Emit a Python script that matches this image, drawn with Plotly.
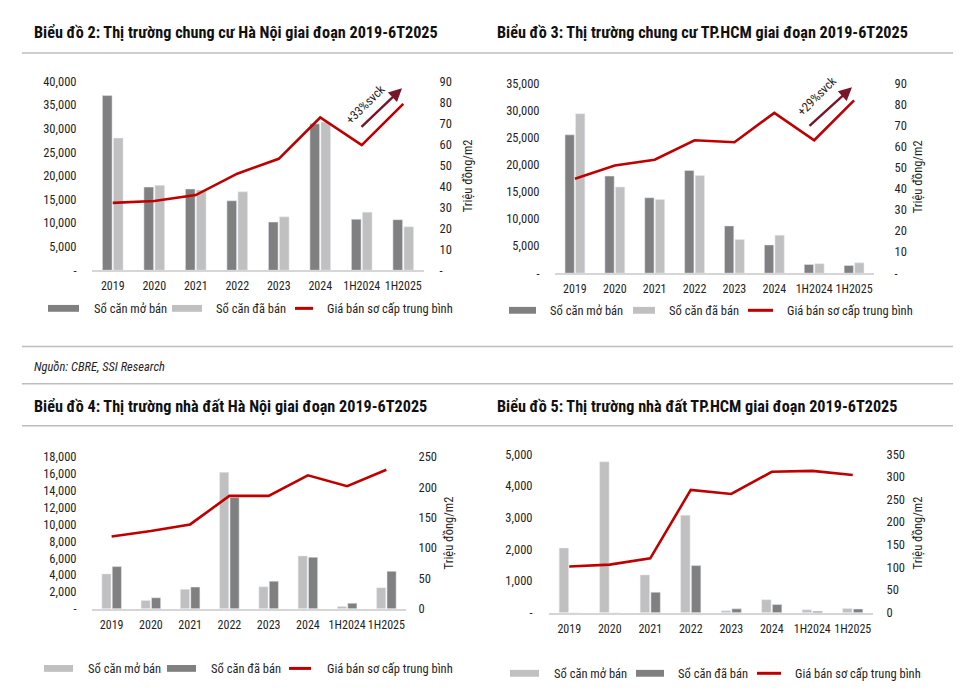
import plotly.graph_objects as go

W, H = 960, 694
FONT = "Roboto Condensed, Arial Narrow, sans-serif"

categories = ["2019", "2020", "2021", "2022", "2023", "2024", "1H2024", "1H2025"]
series_names = ["Sổ căn mở bán", "Sổ căn đã bán", "Giá bán sơ cấp trung bình"]
right_title = "Triệu đồng/m2"

# Biểu đồ 2: chung cư Hà Nội
hn_apt_launched = [37000, 17600, 17200, 14700, 10200, 31000, 10800, 10700]
hn_apt_sold = [28000, 18000, 17000, 16600, 11300, 31400, 12300, 9200]
hn_apt_price = [32.1, 33.0, 35.8, 46.0, 53.1, 72.8, 59.6, 79.3]

# Biểu đồ 3: chung cư TP.HCM
hcm_apt_launched = [25500, 17900, 13900, 18950, 8700, 5200, 1600, 1400]
hcm_apt_sold = [29400, 15900, 13600, 18000, 6200, 7000, 1750, 1900]
hcm_apt_price = [44.8, 51.0, 53.8, 63.0, 62.1, 76.0, 63.0, 81.9]

# Biểu đồ 4: nhà đất Hà Nội
hn_land_launched = [4130, 970, 2300, 16200, 2600, 6270, 270, 2500]
hn_land_sold = [5000, 1300, 2570, 13200, 3270, 6100, 660, 4440]
hn_land_price = [119, 128, 139, 186, 186, 220, 202, 229]

# Biểu đồ 5: nhà đất TP.HCM
hcm_land_launched = [2040, 4760, 1190, 3075, 60, 410, 90, 130]
hcm_land_sold = [0, 0, 645, 1485, 120, 255, 40, 115]
hcm_land_price = [102, 106, 120, 271, 262, 311, 313, 304]

titles = [
    "Biểu đồ 2: Thị trường chung cư Hà Nội giai đoạn 2019-6T2025",
    "Biểu đồ 3: Thị trường chung cư TP.HCM giai đoạn 2019-6T2025",
    "Biểu đồ 4: Thị trường nhà đất Hà Nội giai đoạn 2019-6T2025",
    "Biểu đồ 5: Thị trường nhà đất TP.HCM giai đoạn 2019-6T2025",
]
source_note = "Nguồn: CBRE, SSI Research"
growth_labels = ["+33%svck", "+29%svck"]

DARK = "#808080"
LIGHT = "#C0C0C0"
RED = "#C00000"
ARROW = "#7A1428"
TXT = "#1f1f1f"


def px(x):
    return x / W


def py(y):
    return 1 - y / H


def fmt_left(v):
    return "-" if v == 0 else f"{v:,}"


fig = go.Figure()

# panel geometry in screen pixels: plot box, title pos, legend layout
panels = [
    dict(data=(hn_apt_launched, hn_apt_sold, hn_apt_price), colors=(DARK, LIGHT),
         box=(92, 424, 75, 268), lmax=40000, lstep=5000, rmax=90, rstep=10, rzero="-",
         title=(32, 25), ltick=12, rtick=12, rtitle=(467, 172),
         legend=dict(y=307, sw=[(48, 79), (172, 202), (295, 313)], tx=[92, 214, 325])),
    dict(data=(hcm_apt_launched, hcm_apt_sold, hcm_apt_price), colors=(DARK, LIGHT),
         box=(555, 874, 77, 271), lmax=35000, lstep=5000, rmax=90, rstep=10, rzero="-",
         title=(495, 25), ltick=12, rtick=17, rtitle=(917, 173),
         legend=dict(y=309, sw=[(509, 536), (633, 655), (748, 773)], tx=[548, 667, 785])),
    dict(data=(hn_land_launched, hn_land_sold, hn_land_price), colors=(LIGHT, DARK),
         box=(92, 406, 459, 614), lmax=18000, lstep=2000, rmax=250, rstep=50, rzero="0",
         title=(32, 407), ltick=12, rtick=9, rtitle=(448, 537),
         legend=dict(y=675, sw=[(44, 73), (167, 196), (289, 311)], tx=[86, 209, 325])),
    dict(data=(hcm_land_launched, hcm_land_sold, hcm_land_price), colors=(LIGHT, DARK),
         box=(549, 873, 456, 618), lmax=5000, lstep=1000, rmax=350, rstep=50, rzero="0",
         title=(495, 407), ltick=13, rtick=10, rtitle=(917, 537),
         legend=dict(y=680, sw=[(510, 539), (636, 664), (757, 781)], tx=[552, 676, 793])),
]

layout = {}
annotations = []
shapes = []

for i, p in enumerate(panels):
    n = i + 1
    xid = "x" if n == 1 else f"x{n}"
    yl = 2 * n - 1
    yr = 2 * n
    ylid = "y" if yl == 1 else f"y{yl}"
    yrid = f"y{yr}"
    launched, sold, price = p["data"]
    c1, c2 = p["colors"]
    x0, x1, ytop, ybot = p["box"]

    fig.add_trace(go.Bar(x=categories, y=launched, marker_color=c1, name=series_names[0],
                         xaxis=xid, yaxis=ylid, showlegend=False))
    fig.add_trace(go.Bar(x=categories, y=sold, marker_color=c2, name=series_names[1],
                         xaxis=xid, yaxis=ylid, showlegend=False))
    fig.add_trace(go.Scatter(x=categories, y=price, mode="lines", name=series_names[2],
                             line=dict(color=RED, width=2.6), xaxis=xid, yaxis=yrid,
                             showlegend=False))

    tick_font = dict(family=FONT, size=12.5, color=TXT)
    lvals = list(range(0, p["lmax"] + 1, p["lstep"]))
    rvals = list(range(0, p["rmax"] + 1, p["rstep"]))
    layout["xaxis" if n == 1 else f"xaxis{n}"] = dict(
        domain=[px(x0), px(x1)], anchor=ylid, type="category", tickangle=0,
        showline=True, linecolor="#D6D6D6", linewidth=1.5, showgrid=False,
        ticks="outside", ticklen=4, tickcolor="rgba(0,0,0,0)",
        tickfont=dict(family=FONT, size=12, color=TXT), fixedrange=True,
    )
    layout["yaxis" if yl == 1 else f"yaxis{yl}"] = dict(
        domain=[py(ybot), py(ytop)], anchor=xid, range=[0, p["lmax"]],
        tickvals=lvals, ticktext=[fmt_left(v) for v in lvals],
        showgrid=False, zeroline=False, showline=False,
        ticks="outside", ticklen=p["ltick"], tickcolor="rgba(0,0,0,0)", tickfont=tick_font,
        fixedrange=True,
    )
    layout[f"yaxis{yr}"] = dict(
        domain=[py(ybot), py(ytop)], anchor=xid, overlaying=ylid, side="right",
        range=[0, p["rmax"]], tickvals=rvals,
        ticktext=[p["rzero"] if v == 0 else str(v) for v in rvals],
        showgrid=False, zeroline=False, showline=False,
        ticks="outside", ticklen=p["rtick"], tickcolor="rgba(0,0,0,0)", tickfont=tick_font,
        fixedrange=True,
    )

    rx, ry = p["rtitle"]
    annotations.append(dict(text=right_title, x=px(rx), y=py(ry), xref="paper", yref="paper",
                            xanchor="center", yanchor="middle", textangle=-90,
                            showarrow=False, font=dict(family=FONT, size=12.5, color=TXT)))

    tx, ty = p["title"]
    annotations.append(dict(text=f"<b>{titles[i]}</b>", x=px(tx), y=py(ty), xref="paper",
                            yref="paper", xanchor="left", yanchor="middle", showarrow=False,
                            font=dict(family=FONT, size=16.2, color="#111")))

    lg = p["legend"]
    sw_colors = [c1, c2]
    for k in range(3):
        a, b = lg["sw"][k]
        if k < 2:
            shapes.append(dict(type="rect", xref="paper", yref="paper", x0=px(a), x1=px(b),
                               y0=py(lg["y"] + 3.5), y1=py(lg["y"] - 3.5),
                               fillcolor=sw_colors[k], line=dict(width=0)))
        else:
            shapes.append(dict(type="line", xref="paper", yref="paper", x0=px(a), x1=px(b),
                               y0=py(lg["y"]), y1=py(lg["y"]), line=dict(color=RED, width=3)))
        annotations.append(dict(text=series_names[k], x=px(lg["tx"][k]), y=py(lg["y"]),
                                xref="paper", yref="paper", xanchor="left", yanchor="middle",
                                showarrow=False, font=dict(family=FONT, size=12.5, color=TXT)))

# growth arrows on the two apartment charts
for (hx, hy, tx, ty), (lx, ly), label in zip(
        [(402, 82, 360, 122), (852, 81, 808, 121)], [(365, 99), (816, 90)], growth_labels):
    annotations.append(dict(x=px(hx), y=py(hy), xref="paper", yref="paper", text="",
                            showarrow=True, ax=tx - hx, ay=ty - hy, arrowhead=2,
                            arrowsize=1.1, arrowwidth=2.4, arrowcolor=ARROW, standoff=0))
    annotations.append(dict(x=px(lx), y=py(ly), xref="paper", yref="paper", text=label,
                            textangle=-45, showarrow=False, xanchor="center",
                            yanchor="middle", font=dict(family=FONT, size=12.5, color=TXT)))

annotations.append(dict(text=f"<i>{source_note}</i>", x=px(32), y=py(366), xref="paper",
                        yref="paper", xanchor="left", yanchor="middle", showarrow=False,
                        font=dict(family=FONT, size=12.5, color=TXT)))

# separator rules
for yy in [46, 346, 384, 427]:
    shapes.append(dict(type="line", xref="paper", yref="paper", x0=px(22), x1=px(953),
                       y0=py(yy), y1=py(yy), line=dict(color="#BDBDBD", width=1.5)))

fig.update_layout(
    width=W, height=H, margin=dict(l=0, r=0, t=0, b=0),
    paper_bgcolor="white", plot_bgcolor="white",
    barmode="group", bargap=0.47, bargroupgap=0.12,
    showlegend=False, font=dict(family=FONT, color=TXT),
    annotations=annotations, shapes=shapes,
    **layout,
)

# drop the default page margin so the 960x694 figure fills the window exactly
fig.write_html("out.html", post_script="document.body.style.margin='0';",
               config={"displayModeBar": False})
